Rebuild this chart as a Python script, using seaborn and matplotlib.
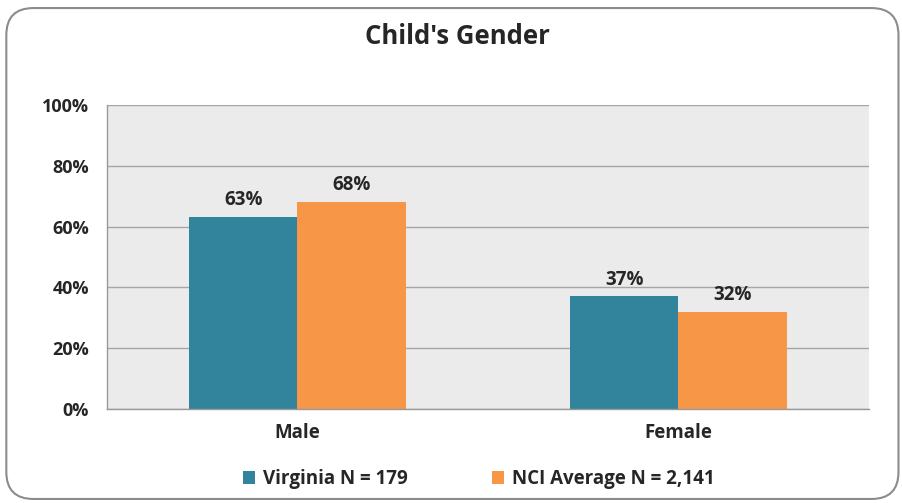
import pandas as pd
import matplotlib.pyplot as plt
import seaborn as sns
from matplotlib.patches import FancyBboxPatch, Patch

categories = ["Male", "Female"]
series_names = ["Virginia N = 179", "NCI Average N = 2,141"]
virginia = [63, 37]
nci_average = [68, 32]
y_ticks = [0, 20, 40, 60, 80, 100]

colors = ["#31849B", "#F79646"]

df = pd.DataFrame({
    "category": categories * 2,
    "series": [series_names[0]] * 2 + [series_names[1]] * 2,
    "value": virginia + nci_average,
})

sns.set_style("white")
plt.rcParams["font.family"] = ["Open Sans", "DejaVu Sans"]
plt.rcParams["font.weight"] = "bold"

fig = plt.figure(figsize=(9.03, 5.03), dpi=100)
ax = fig.add_axes([0.1185, 0.187, 0.8438, 0.6043])

# rounded outer frame
frame = FancyBboxPatch((0.007, 0.008), 0.988, 0.976, boxstyle="round,pad=0,rounding_size=0.03",
                       transform=fig.transFigure, facecolor="none", edgecolor="#8C8C8C",
                       linewidth=1.5, mutation_aspect=903 / 503)
fig.patches.append(frame)

sns.barplot(data=df, x="category", y="value", hue="series", palette=colors,
            width=0.57, ax=ax, legend=False, saturation=1, edgecolor="none")

ax.set_facecolor("#EBEBEB")
ax.set_xlim(-0.5, 1.5)
ax.set_ylim(0, 100)
ax.set_yticks(y_ticks)
ax.set_yticklabels([f"{t}%" for t in y_ticks], fontsize=13, fontweight="bold")
ax.yaxis.grid(True, color="#A6A6A6", linewidth=1)
ax.set_axisbelow(True)

# category separator ticks on the bottom
ax.set_xticks([0.5, 1.5], minor=True)
ax.set_xticks([0, 1])
ax.set_xticklabels(categories, fontsize=13.5, fontweight="bold")
ax.tick_params(axis="x", which="major", length=0, pad=10)
ax.tick_params(axis="x", which="minor", length=5, color="#999999", width=1)
ax.tick_params(axis="y", length=5, color="#999999", width=1, pad=8)
ax.set_xlabel("")
ax.set_ylabel("")

for side in ["top", "right"]:
    ax.spines[side].set_visible(False)
for side in ["left", "bottom"]:
    ax.spines[side].set_color("#999999")
    ax.spines[side].set_linewidth(1)

for container in ax.containers:
    ax.bar_label(container, labels=[f"{v:.0f}%" for v in container.datavalues],
                 padding=5, fontsize=13.5, fontweight="bold")

fig.text(0.507, 0.928, "Child's Gender", ha="center", va="center",
         fontsize=18.5, fontweight="bold")

handles = [Patch(facecolor=c, edgecolor="none") for c in colors]
fig.legend(handles, series_names, loc="center", bbox_to_anchor=(0.53, 0.048), ncol=2,
           frameon=False, prop={"weight": "bold", "size": 13.5},
           handlelength=0.65, handleheight=0.65, handletextpad=0.4, columnspacing=4.5)

fig.savefig("out.png", dpi=100)
